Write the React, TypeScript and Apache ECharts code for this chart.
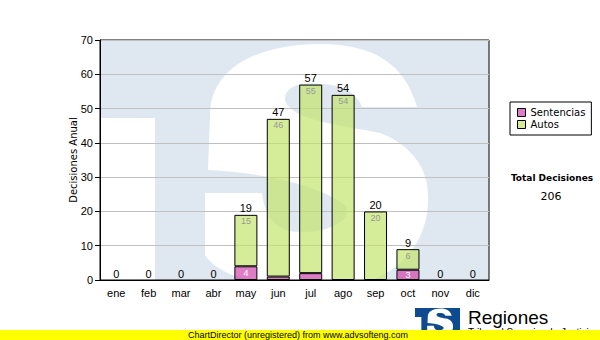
import React, { useEffect, useRef } from "react";
import * as echarts from "echarts";

const months = ["ene", "feb", "mar", "abr", "may", "jun", "jul", "ago", "sep", "oct", "nov", "dic"];
const sentencias = [0, 0, 0, 0, 4, 1, 2, 0, 0, 3, 0, 0];
const autos = [0, 0, 0, 0, 15, 46, 55, 54, 20, 6, 0, 0];
const totals = [0, 0, 0, 0, 19, 47, 57, 54, 20, 9, 0, 0];
const totalDecisiones = 206;
const yMin = 0;
const yMax = 70;
const yStep = 10;

// White "S" of the TS logo, in a 389x240 box
const S_PATH =
  "M 317 67 C 305 25 275 4 220 4 C 155 4 110 30 110 75 L 108 130 " +
  "C 160 132 220 145 245 165 C 252 175 240 192 200 192 C 180 192 165 180 162 153 " +
  "L 105 153 L 105 215 C 120 240 180 250 230 248 C 300 245 330 200 328 155 " +
  "C 328 120 300 100 280 93 C 240 85 190 80 185 60 C 185 45 200 42 225 44 " +
  "C 245 46 258 55 262 67 Z";

let registered = false;
function ensureShape() {
  if (registered) return;
  echarts.graphic.registerShape("tsS", echarts.graphic.extendPath(S_PATH, {}));
  registered = true;
}

function logo(x: number, y: number, s: number, blue: string, white: string, z: number) {
  return [
    { type: "rect", shape: { x, y, width: 389 * s, height: 240 * s }, style: { fill: blue }, z, z2: 0, silent: true },
    { type: "rect", shape: { x, y: y + 78 * s, width: 55 * s, height: 162 * s }, style: { fill: white }, z, z2: 1, silent: true },
    { type: "tsS", x, y, scaleX: s, scaleY: s, shape: {}, style: { fill: white }, z, z2: 2, silent: true },
  ];
}

const barData = (vals: number[]) =>
  vals.map((v) => (v === 0 ? { value: v, itemStyle: { borderWidth: 0 } } : v));

export default function App() {
  const ref = useRef<HTMLDivElement>(null);
  useEffect(() => {
    document.body.style.margin = "0";
    ensureShape();
    const chart = echarts.init(ref.current!, undefined, { renderer: "svg" });
    const option: any = {
      animation: false,
      textStyle: { fontFamily: "Liberation Sans, Arial, sans-serif" },
      grid: { left: 100, top: 40, right: 111, bottom: 60, show: true, borderColor: "#000", borderWidth: 1, backgroundColor: "transparent" },
      legend: {
        orient: "vertical",
        left: 510,
        top: 102,
        data: [
          { name: "Sentencias", itemStyle: { color: "#dd7cc4" } },
          { name: "Autos", itemStyle: { color: "#d4ec98" } },
        ],
        icon: "rect",
        itemWidth: 8,
        itemHeight: 8,
        itemGap: 1,
        borderColor: "#000",
        borderWidth: 1,
        backgroundColor: "#fff",
        borderRadius: 0,
        padding: [5, 6, 5, 7],
        itemStyle: { borderColor: "#000", borderWidth: 1 },
        textStyle: { fontSize: 10, fontFamily: "DejaVu Sans", color: "#000", lineHeight: 11 },
      },
      xAxis: {
        type: "category",
        data: months,
        axisLine: { lineStyle: { color: "#000" } },
        axisTick: { alignWithLabel: true, length: 5, lineStyle: { color: "#000" } },
        axisLabel: { color: "#000", fontSize: 11, margin: 7 },
      },
      yAxis: {
        type: "value",
        min: yMin,
        max: yMax,
        interval: yStep,
        name: "Decisiones Anual",
        nameLocation: "middle",
        nameGap: 22,
        nameMoveOverlap: false,
        nameTextStyle: { fontSize: 10, fontFamily: "DejaVu Sans", color: "#000" },
        axisLine: { show: true, lineStyle: { color: "#000" } },
        axisTick: { show: true, length: 5, lineStyle: { color: "#000" } },
        axisLabel: { color: "#000", fontSize: 11, margin: 7 },
        splitLine: { lineStyle: { color: "#c0c0c0" } },
      },
      series: [
        {
          name: "Sentencias",
          type: "bar",
          stack: "t",
          barWidth: 23,
          data: barData(sentencias),
          itemStyle: { color: "rgba(208,68,171,0.7)", borderColor: "#000", borderWidth: 1 },
          label: { show: true, position: "inside", color: "#fff", fontSize: 9, formatter: (p: any) => (p.value >= 3 ? String(p.value) : "") },
        },
        {
          name: "Autos",
          type: "bar",
          stack: "t",
          barWidth: 23,
          data: barData(autos),
          itemStyle: { color: "rgba(195,228,108,0.7)", borderColor: "#000", borderWidth: 1 },
          label: { show: true, position: "insideTop", distance: 2, color: "#999", fontSize: 9, formatter: (p: any) => (p.value >= 3 ? String(p.value) : "") },
        },
        {
          name: "Total",
          type: "bar",
          stack: "t",
          barWidth: 23,
          silent: true,
          data: months.map(() => 0),
          itemStyle: { color: "transparent", borderWidth: 0 },
          label: { show: true, position: "top", distance: 1, color: "#000", fontSize: 11, formatter: (p: any) => String(totals[p.dataIndex]) },
        },
      ],
      graphic: [
        ...logo(100, 40, 1, "#dfe8f1", "#ffffff", -10),
        ...logo(415, 308, 45 / 389, "#0e4a90", "#ffffff", 5),
        { type: "text", x: 468, y: 317, z: 6, style: { text: "Regiones", fontSize: 19, fontFamily: "Liberation Sans", fill: "#000", align: "left", verticalAlign: "middle" } },
        { type: "text", x: 468, y: 327, z: 6, style: { text: "Tribunal Superior de Justicia", fontSize: 10, fontFamily: "Liberation Sans", fill: "#000", align: "left", verticalAlign: "top" } },
        { type: "text", x: 552, y: 178, z: 6, style: { text: "Total Decisiones", fontSize: 9, fontWeight: "bold", fontFamily: "DejaVu Sans", fill: "#000", align: "center", verticalAlign: "middle" } },
        { type: "text", x: 551, y: 196, z: 6, style: { text: String(totalDecisiones), fontSize: 11, fontFamily: "DejaVu Sans", fill: "#000", align: "center", verticalAlign: "middle" } },
        { type: "rect", shape: { x: 0, y: 330, width: 600, height: 10 }, style: { fill: "#ffff00" }, z: 10, silent: true },
        { type: "text", x: 298, y: 335, z: 11, style: { text: "ChartDirector (unregistered) from www.advsofteng.com", fontSize: 9, fontFamily: "Liberation Sans", fill: "#000", align: "center", verticalAlign: "middle" } },
      ],
    };
    chart.setOption(option);
    return () => chart.dispose();
  }, []);
  return <div ref={ref} style={{ width: 600, height: 340 }} />;
}
